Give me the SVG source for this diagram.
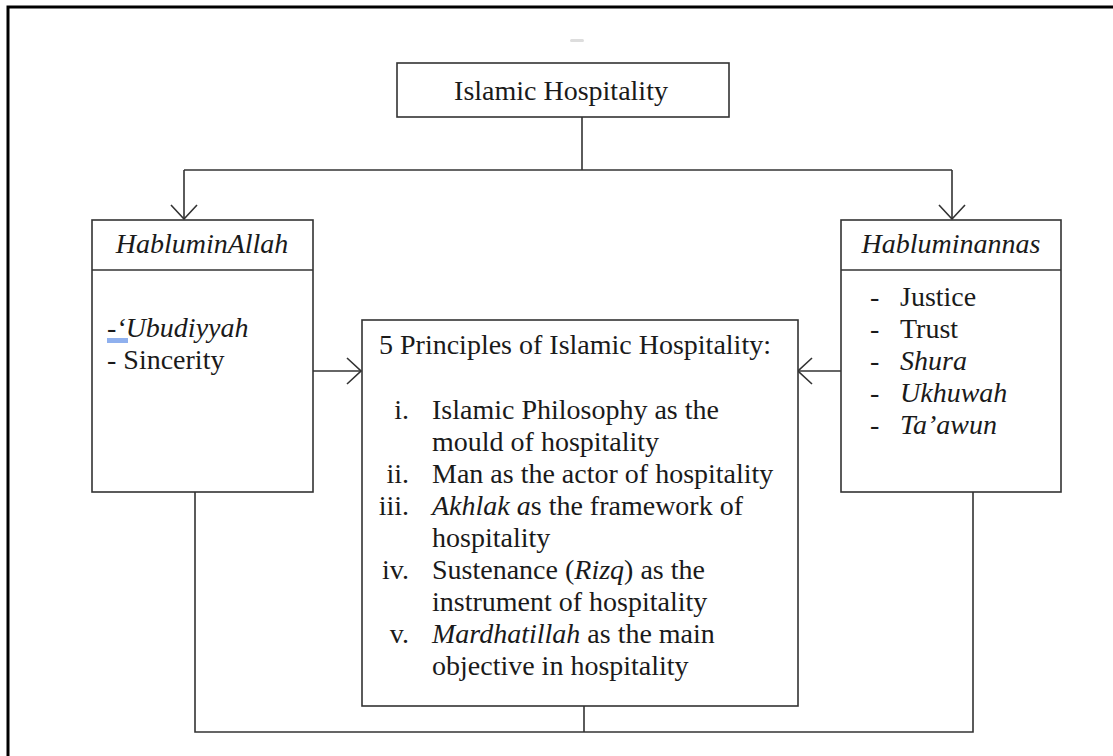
<svg xmlns="http://www.w3.org/2000/svg" width="1113" height="756" viewBox="0 0 1113 756">
<style>
  text { font-family: "Liberation Serif", "Times New Roman", serif; font-size: 28px; fill: #1a1a1a; }
  .it { font-style: italic; }
  .box { fill: #ffffff; stroke: #333333; stroke-width: 1.6; }
  .conn { fill: none; stroke: #333333; stroke-width: 1.6; }
  .frame { fill: none; stroke: #000000; stroke-width: 3; }
</style>
<defs>
  <marker id="openArrow" viewBox="0 0 16 30" refX="15" refY="15" markerWidth="16" markerHeight="30" markerUnits="userSpaceOnUse" orient="auto">
    <path d="M1,2 L15,15 L1,28" fill="none" stroke="#333333" stroke-width="1.6"/>
  </marker>
</defs>
<rect x="0" y="0" width="1113" height="756" fill="#ffffff"/>
<path class="frame" d="M8,756 V7 H1113"/>
<rect x="570" y="39" width="14" height="3" rx="1.5" fill="#dddddd"/>

<g id="connectors">
  <path class="conn" d="M582,117 V170"/>
  <path class="conn" d="M184,170 H952"/>
  <path class="conn" d="M184,170 V219" marker-end="url(#openArrow)"/>
  <path class="conn" d="M952,170 V219" marker-end="url(#openArrow)"/>
  <path class="conn" d="M313,371 H361" marker-end="url(#openArrow)"/>
  <path class="conn" d="M841,371 H798" marker-end="url(#openArrow)"/>
  <path class="conn" d="M195,492 V732 H973 V492"/>
  <path class="conn" d="M584,706 V732"/>
</g>

<g id="islamic-hospitality">
  <rect class="box" x="397" y="63" width="332" height="54"/>
  <text x="561" y="100" text-anchor="middle">Islamic Hospitality</text>
</g>

<g id="habluminallah">
  <rect class="box" x="92" y="220" width="221" height="272"/>
  <line class="conn" x1="92" y1="270" x2="313" y2="270"/>
  <text class="it" x="202" y="253" text-anchor="middle">HabluminAllah</text>
  <rect x="107" y="338" width="21" height="5" fill="#8fb0ee"/>
  <text x="107" y="337">-<tspan class="it">‘Ubudiyyah</tspan></text>
  <text x="107" y="369">- Sincerity</text>
</g>

<g id="habluminannas">
  <rect class="box" x="841" y="220" width="220" height="272"/>
  <line class="conn" x1="841" y1="270" x2="1061" y2="270"/>
  <text class="it" x="951" y="253" text-anchor="middle">Habluminannas</text>
  <text x="870" y="306">-</text><text x="900" y="306">Justice</text>
  <text x="870" y="338">-</text><text x="900" y="338">Trust</text>
  <text x="870" y="370">-</text><text x="900" y="370" class="it">Shura</text>
  <text x="870" y="402">-</text><text x="900" y="402" class="it">Ukhuwah</text>
  <text x="870" y="434">-</text><text x="900" y="434" class="it">Ta’awun</text>
</g>

<g id="principles">
  <rect class="box" x="362" y="320" width="436" height="386"/>
  <text x="379" y="354">5 Principles of Islamic Hospitality:</text>
  <text x="409" y="419" text-anchor="end">i.</text>
  <text x="432" y="419">Islamic Philosophy as the</text>
  <text x="432" y="451">mould of hospitality</text>
  <text x="409" y="483" text-anchor="end">ii.</text>
  <text x="432" y="483">Man as the actor of hospitality</text>
  <text x="409" y="515" text-anchor="end">iii.</text>
  <text x="432" y="515"><tspan class="it">Akhlak a</tspan>s the framework of</text>
  <text x="432" y="547">hospitality</text>
  <text x="409" y="579" text-anchor="end">iv.</text>
  <text x="432" y="579">Sustenance (<tspan class="it">Rizq</tspan>) as the</text>
  <text x="432" y="611">instrument of hospitality</text>
  <text x="409" y="643" text-anchor="end">v.</text>
  <text x="432" y="643"><tspan class="it">Mardhatillah</tspan> as the main</text>
  <text x="432" y="675">objective in hospitality</text>
</g>
</svg>
